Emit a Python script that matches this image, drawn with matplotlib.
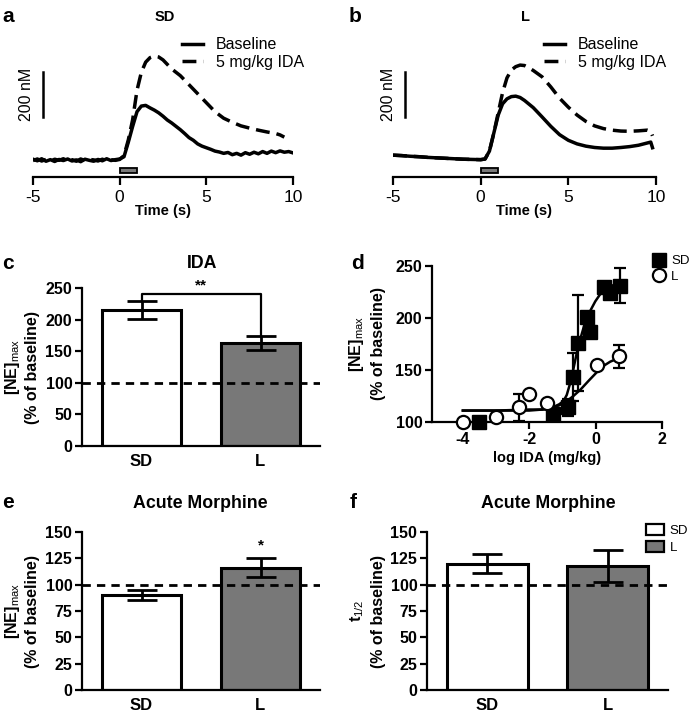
import matplotlib
matplotlib.use('Agg')
import matplotlib.pyplot as plt
from matplotlib.patches import Rectangle
from matplotlib.lines import Line2D

plt.rcParams['font.family'] = ['Liberation Sans', 'DejaVu Sans']
plt.rcParams['mathtext.fontset'] = 'custom'
plt.rcParams['mathtext.rm'] = 'Liberation Sans'
plt.rcParams['mathtext.bf'] = 'Liberation Sans:bold'
plt.rcParams['axes.linewidth'] = 1.6
plt.rcParams['axes.unicode_minus'] = False

# ---- data ----
# panel a (SD) traces, nM above pre-stim baseline
t_pre = [-5, -4.75, -4.5, -4.25, -4, -3.75, -3.5, -3.25, -3, -2.75, -2.5,
         -2.25, -2, -1.75, -1.5, -1.25, -1, -0.75, -0.5, -0.25, 0]
t_post = [0.25, 0.5, 0.75, 1.0, 1.25, 1.5, 1.75, 2.0, 2.25, 2.5, 2.75, 3.0,
          3.25, 3.5, 3.75, 4.0, 4.25, 4.5, 4.75, 5.0, 5.25, 5.5, 5.75, 6.0,
          6.25, 6.5, 6.75, 7.0, 7.25, 7.5, 7.75, 8.0, 8.25, 8.5, 8.75, 9.0,
          9.25, 9.5, 9.75, 10.0]
sd_base_pre = [4, -3, 6, -5, 2, -6, 3, -2, 5, -4, 1, -7, 4, -1, -5, 3, -3, 6, -2, 2, 5]
sd_base_post = [15, 80, 150, 215, 240, 243, 232, 222, 210, 195, 178, 165,
                150, 135, 118, 100, 88, 72, 62, 55, 48, 40, 36, 30,
                34, 24, 30, 22, 33, 26, 35, 28, 38, 30, 40, 33,
                41, 35, 38, 32]
sd_ida_pre = [-2, 5, -4, 3, -6, 4, -1, 6, -3, 2, -5, 5, -2, 3, 1, -4, 4, -3, 2, -1, 3]
t_ida_sd = [0.25, 0.5, 0.75, 1.0, 1.25, 1.5, 1.75, 2.0, 2.25, 2.5, 2.75, 3.0,
            3.5, 4.0, 4.5, 5.0, 5.5, 6.0, 6.5, 7.0, 7.5, 8.0, 8.5, 9.0, 9.25, 9.5]
sd_ida_post = [20, 90, 180, 310, 390, 435, 455, 462, 458, 445, 425, 405,
               375, 335, 295, 255, 215, 186, 168, 152, 142, 133, 125, 118, 112, 102]

# panel b (L) traces
t_l = [-5, -4.5, -4, -3.5, -3, -2.5, -2, -1.5, -1, -0.5, 0, 0.25, 0.5, 0.75,
       1.0, 1.25, 1.5, 1.75, 2.0, 2.25, 2.5, 3.0, 3.5, 4.0, 4.5, 5.0, 5.5,
       6.0, 6.5, 7.0, 7.5, 8.0, 8.5, 9.0, 9.5, 9.7, 9.8]
l_base = [22, 20, 17, 15, 12, 10, 8, 6, 4, 3, 2, 5, 40, 120,
          200, 250, 272, 282, 284, 278, 265, 233, 192, 150, 113, 88, 72,
          62, 56, 53, 53, 56, 60, 66, 76, 80, 55]
t_l_ida = [0.25, 0.5, 0.75, 1.0, 1.25, 1.5, 1.75, 2.0, 2.25, 2.5, 2.75, 3.0,
           3.5, 4.0, 4.5, 5.0, 5.5, 6.0, 6.5, 7.0, 7.5, 8.0, 8.5, 9.0, 9.5, 9.7, 9.8]
l_ida = [5, 40, 120, 210, 300, 365, 400, 415, 422, 420, 410, 398,
         370, 325, 275, 235, 200, 172, 152, 140, 133, 129, 128, 130, 133, 128, 108]

groups = ['SD', 'L']
bar_colors = ['white', '#787878']

# panel c
c_mean = [215, 163]
c_sem = [14, 11]

# panel d dose-response
sd_logdose = [-3.5, -1.27, -0.82, -0.69, -0.52, -0.26, -0.16, 0.24, 0.44, 0.73]
sd_resp = [100, 108, 114, 143, 176, 201, 187, 230, 224, 231]
sd_err = [1, 3, 8, 23, 46, 5, 5, 4, 4, 17]
l_logdose = [-4.0, -3.0, -2.3, -2.0, -1.48, 0.03, 0.71]
l_resp = [100, 105, 114, 127, 118, 155, 163]
l_err = [1, 2, 13, 2, 2, 2, 11]
sd_fit_x = [-4.0, -3.0, -2.0, -1.6, -1.3, -1.1, -0.97, -0.87, -0.77, -0.67, -0.57,
            -0.46, -0.36, -0.26, -0.16, -0.01, 0.14, 0.34, 0.55, 0.73]
sd_fit_y = [111, 111, 111, 112, 114, 117, 120, 126, 137, 151, 166,
            180, 191, 200, 207, 216, 223, 228, 232, 234]
l_fit_x = [-4.0, -3.0, -2.0, -1.6, -1.37, -1.1, -0.87, -0.67, -0.46, -0.2,
           0.04, 0.24, 0.44, 0.73]
l_fit_y = [111, 111, 112, 112, 113, 116, 120, 125, 131, 140,
           148, 154, 158, 162]

# panel e, f
e_mean = [90, 116]
e_sem = [5, 9]
f_mean = [120, 118]
f_sem = [9, 15]

# ---- figure ----
W, H = 699, 727
fig = plt.figure(figsize=(W / 100, H / 100), dpi=100)


def ax_px(left, top, right, bottom):
    return fig.add_axes([left / W, 1 - bottom / H, (right - left) / W, (bottom - top) / H])


def ftext(x, y, s, **kw):
    fig.text(x / W, 1 - y / H, s, ha='center', va='center', **kw)


LW = 2.5
dash = (0, (4, 2))
TICK = 11.5
LAB = 11.5
TITLE = 12.8
LETTER = 15


def trace_panel(ax, base_t, base_v, ida_t, ida_v, title, letter, lx, bar_x):
    ax.plot(base_t, base_v, color='black', lw=LW, label='Baseline')
    ax.plot(ida_t, ida_v, color='black', lw=LW, ls=dash, label='5 mg/kg IDA')
    ax.set_xlim(-5, 10)
    ax.set_ylim(-75, 600)
    for s in ['left', 'top', 'right']:
        ax.spines[s].set_visible(False)
    ax.spines['bottom'].set_linewidth(1.6)
    ax.set_yticks([])
    ax.set_xticks([-5, 0, 5, 10])
    ax.tick_params(axis='x', direction='out', length=6, width=1.6, labelsize=12.5, pad=3)
    ax.set_xlabel('Time (s)', fontsize=10.5, fontweight='bold', labelpad=0)
    ax.add_patch(Rectangle((0, -58), 1, 22, facecolor='#7a7a7a', edgecolor='black',
                           lw=1.3, clip_on=False))
    ax.plot([bar_x, bar_x], [190, 390], color='black', lw=1.8, clip_on=False)
    ax.text(bar_x - 0.95, 290, '200 nM', rotation=90, ha='center', va='center', fontsize=11.5)
    ax.legend(loc='upper left', bbox_to_anchor=(0.55, 0.96), frameon=False,
              fontsize=11.5, handlelength=1.3, handletextpad=0.8, borderaxespad=0,
              labelspacing=0.15)
    ftext(lx[0], 17, title, fontsize=10.5, fontweight='bold')
    ftext(lx[1], 17, letter, fontsize=LETTER, fontweight='bold')


axa = ax_px(33, 25, 293, 177)
trace_panel(axa, t_pre + t_post, sd_base_pre + sd_base_post, t_pre + t_ida_sd,
            sd_ida_pre + sd_ida_post, 'SD', 'a', (165, 8), -4.42)

axb = ax_px(393, 25, 656, 177)
l_pre_t = t_l[:11]
trace_panel(axb, t_l, l_base, l_pre_t + t_l_ida, l_base[:11] + l_ida,
            'L', 'b', (526, 355), -4.32)


def bar_panel(ax, means, sems, ylim, yticks):
    ax.bar([0, 1], means, width=0.67, color=bar_colors, edgecolor='black', lw=2.2, zorder=2)
    ax.errorbar([0, 1], means, yerr=sems, fmt='none', ecolor='black', elinewidth=2.0,
                capsize=11, capthick=2.0, zorder=3)
    ax.axhline(100, color='black', lw=2.0, ls=(0, (3, 2.2)), zorder=4)
    ax.set_xlim(-0.5, 1.5)
    ax.set_ylim(*ylim)
    ax.set_yticks(yticks)
    ax.set_xticks([0, 1])
    ax.set_xticklabels(groups)
    for s in ['top', 'right']:
        ax.spines[s].set_visible(False)
    ax.tick_params(axis='y', direction='out', length=5, width=1.6, labelsize=TICK, pad=2)
    ax.tick_params(axis='x', length=0, labelsize=12, pad=6)
    for lab in ax.get_xticklabels() + ax.get_yticklabels():
        lab.set_fontweight('bold')


# panel c
axc = ax_px(82, 288, 320, 446)
bar_panel(axc, c_mean, c_sem, (0, 250), [0, 50, 100, 150, 200, 250])
axc.plot([0, 0, 1, 1], [c_mean[0] + c_sem[0], 240, 240, c_mean[1] + c_sem[1]],
         color='black', lw=1.6, zorder=3, clip_on=False)
axc.text(0.5, 243, '**', ha='center', va='bottom', fontsize=11, fontweight='bold')
ftext(202, 263, 'IDA', fontsize=TITLE, fontweight='bold')
ftext(8, 263, 'c', fontsize=LETTER, fontweight='bold')
ftext(12, 367, '[NE]$_{\\rm max}$', rotation=90, fontsize=LAB, fontweight='bold')
ftext(33, 367, '(% of baseline)', rotation=90, fontsize=LAB, fontweight='bold')

# panel d
axd = ax_px(432, 266, 662, 422)
axd.plot(sd_fit_x, sd_fit_y, color='black', lw=1.8, zorder=2, clip_on=False)
axd.plot(l_fit_x, l_fit_y, color='black', lw=1.8, zorder=2, clip_on=False)
axd.errorbar(sd_logdose, sd_resp, yerr=sd_err, fmt='s', color='black', ms=9.5,
             elinewidth=1.6, capsize=4.5, capthick=1.6, zorder=3, clip_on=False, label='SD')
axd.errorbar(l_logdose, l_resp, yerr=l_err, fmt='o', mfc='white', mec='black', mew=1.6,
             color='black', ms=9.5, elinewidth=1.6, capsize=4.5, capthick=1.6, zorder=4,
             clip_on=False, label='L')
axd.set_xlim(-4.93, 2)
axd.set_ylim(100, 250)
axd.set_xticks([-4, -2, 0, 2])
axd.set_yticks([100, 150, 200, 250])
for s in ['top', 'right']:
    axd.spines[s].set_visible(False)
axd.tick_params(direction='out', length=5, width=1.6, labelsize=TICK, pad=2)
for lab in axd.get_xticklabels() + axd.get_yticklabels():
    lab.set_fontweight('bold')
axd.set_xlabel('log IDA (mg/kg)', fontsize=10.5, fontweight='bold', labelpad=3)
handles = [Line2D([], [], marker='s', color='black', ls='none', ms=9.5),
           Line2D([], [], marker='o', mfc='white', mec='black', mew=1.6, ls='none', ms=9.5)]
axd.legend(handles, ['SD', 'L'], loc='upper left', bbox_to_anchor=(654 / W, 1 - 255 / H),
           bbox_transform=fig.transFigure, frameon=False, fontsize=9.5, handlelength=0.8,
           handletextpad=0.5, borderaxespad=0, borderpad=0, labelspacing=0.25)
ftext(357, 263, 'd', fontsize=LETTER, fontweight='bold')
ftext(357, 344, '[NE]$_{\\rm max}$', rotation=90, fontsize=LAB, fontweight='bold')
ftext(379, 344, '(% of baseline)', rotation=90, fontsize=LAB, fontweight='bold')

# panel e
axe = ax_px(82, 532, 320, 690)
bar_panel(axe, e_mean, e_sem, (0, 150), [0, 25, 50, 75, 100, 125, 150])
axe.text(1, 131, '*', ha='center', va='bottom', fontsize=11, fontweight='bold')
ftext(200, 503, 'Acute Morphine', fontsize=TITLE, fontweight='bold')
ftext(8, 503, 'e', fontsize=LETTER, fontweight='bold')
ftext(12, 611, '[NE]$_{\\rm max}$', rotation=90, fontsize=LAB, fontweight='bold')
ftext(33, 611, '(% of baseline)', rotation=90, fontsize=LAB, fontweight='bold')

# panel f
axf = ax_px(427, 532, 668, 690)
bar_panel(axf, f_mean, f_sem, (0, 150), [0, 25, 50, 75, 100, 125, 150])
fhandles = [Rectangle((0, 0), 1, 1, facecolor=c, edgecolor='black', lw=1.6) for c in bar_colors]
axf.legend(fhandles, groups, loc='upper left', bbox_to_anchor=(646 / W, 1 - 524 / H),
           bbox_transform=fig.transFigure, frameon=False, fontsize=9.5, handlelength=1.4,
           handleheight=0.9, handletextpad=0.4, borderaxespad=0, borderpad=0, labelspacing=0.3)
ftext(548, 503, 'Acute Morphine', fontsize=TITLE, fontweight='bold')
ftext(353, 503, 'f', fontsize=LETTER, fontweight='bold')
ftext(357, 611, 't$_{\\rm 1/2}$', rotation=90, fontsize=LAB, fontweight='bold')
ftext(379, 611, '(% of baseline)', rotation=90, fontsize=LAB, fontweight='bold')

fig.savefig('out.png', dpi=100, facecolor='white')
plt.close(fig)
